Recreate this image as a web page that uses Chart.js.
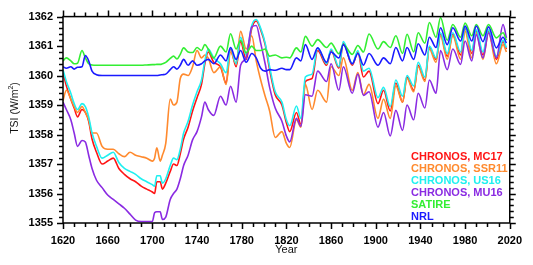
<!DOCTYPE html>
<html>
<head>
<meta charset="utf-8">
<script src="https://cdn.jsdelivr.net/npm/chart.js@4.4.0/dist/chart.umd.min.js"></script>
<style>
  html, body { margin: 0; padding: 0; background: #fff; }
  #wrap { width: 533px; height: 265px; }
</style>
</head>
<body>
<div id="wrap"><canvas id="tsiChart" width="533" height="265"></canvas></div>
<script>
// TSI reconstructions, values (W/m^2)
const years = [
  1620, 1623, 1627, 1630, 1633, 1637, 1640, 1643, 1646,
  1650, 1655, 1660, 1665, 1670, 1675, 1680, 1685, 1690, 1695,
  1700, 1702, 1704, 1707, 1709, 1712, 1716, 1719, 1722, 1725, 1728,
  1732, 1736, 1740, 1744, 1747, 1750, 1755, 1761, 1766,
  1770, 1775, 1779, 1784, 1789, 1793, 1797, 1801, 1805, 1810,
  1816, 1820, 1823, 1829, 1833, 1837, 1843, 1848, 1856,
  1860, 1867, 1871, 1879, 1884, 1889, 1894, 1902,
  1907, 1913, 1918, 1924, 1928, 1934, 1938, 1944, 1948,
  1954, 1958, 1964, 1969, 1976, 1980, 1986, 1990, 1996, 2001, 2008, 2014, 2017
];

const mc17 = [
  1360.1, 1359.65, 1359.2, 1358.9, 1358.6, 1358.85, 1358.75, 1358.45, 1357.85,
  1357.4, 1357.0, 1357.1, 1357.2, 1356.85, 1356.65, 1356.5, 1356.4, 1356.25, 1356.15,
  1356.05, 1356.0, 1356.4, 1356.4, 1356.15, 1356.35, 1356.75, 1357.0, 1356.95, 1357.35, 1357.85,
  1358.25, 1358.8, 1359.25, 1359.7, 1360.4, 1360.8, 1360.45, 1360.3, 1359.75,
  1360.9, 1360.3, 1361.15, 1360.55, 1361.6, 1361.85, 1361.55, 1361.05, 1360.2, 1359.35,
  1359.0, 1358.4, 1358.1, 1358.75, 1358.35, 1359.8, 1359.9, 1360.85, 1360.35,
  1360.85, 1360.25, 1361.1, 1360.35, 1360.8, 1359.95, 1360.15, 1359.05,
  1359.5, 1358.8, 1359.75, 1359.1, 1359.95, 1359.5, 1360.35, 1359.85, 1360.95,
  1360.55, 1361.4, 1360.65, 1361.4, 1360.7, 1361.6, 1360.75, 1361.5, 1360.7, 1361.5, 1360.55, 1361.15, 1360.9
];

const ssr11 = [
  1359.15, 1359.5, 1359.2, 1358.95, 1358.75, 1358.95, 1358.75, 1358.5, 1358.05,
  1358.05, 1357.6, 1357.5, 1357.5, 1357.35, 1357.25, 1357.4, 1357.3, 1357.25, 1357.2,
  1357.1, 1357.2, 1357.55, 1357.1, 1357.3, 1357.7, 1359.2, 1359.0, 1359.1, 1359.9, 1360.05,
  1360.0, 1360.3, 1360.85, 1360.6, 1360.7, 1360.6, 1360.1, 1360.3, 1359.7,
  1360.8, 1360.4, 1361.5, 1360.9, 1361.35, 1360.5, 1359.85, 1359.3, 1358.8, 1357.9,
  1358.1, 1357.7, 1357.56, 1358.5, 1358.25, 1359.7, 1358.85, 1359.5, 1359.1,
  1360.3, 1360.0, 1360.6, 1359.5, 1360.1, 1359.35, 1359.7, 1358.55,
  1359.2, 1358.55, 1359.65, 1359.1, 1359.9, 1359.45, 1360.3, 1359.8, 1360.9,
  1360.45, 1361.35, 1360.55, 1361.35, 1360.55, 1361.5, 1360.6, 1361.45, 1360.55, 1361.45, 1360.4, 1361.05, 1360.8
];

const us16 = [
  1360.2, 1359.8, 1359.4, 1359.05, 1358.85, 1359.05, 1358.95, 1358.6, 1358.05,
  1357.6, 1357.2, 1357.3, 1357.4, 1357.05, 1356.85, 1356.75, 1356.65, 1356.5, 1356.4,
  1356.3, 1356.25, 1356.6, 1356.6, 1356.35, 1356.5, 1356.95, 1357.2, 1357.15, 1357.5, 1358.05,
  1358.45, 1359.0, 1359.45, 1359.85, 1360.5, 1360.9, 1360.6, 1360.4, 1360.1,
  1360.95, 1360.4, 1361.3, 1360.7, 1361.7, 1361.9, 1361.6, 1361.1, 1360.3, 1359.45,
  1359.1, 1358.5, 1358.3, 1358.97, 1358.55, 1359.95, 1360.05, 1360.94, 1360.4,
  1360.9, 1360.3, 1361.15, 1360.4, 1360.85, 1360.15, 1360.25, 1359.25,
  1359.6, 1358.95, 1359.85, 1359.3, 1360.0, 1359.65, 1360.45, 1359.95, 1361.0,
  1360.6, 1361.45, 1360.75, 1361.45, 1360.8, 1361.65, 1360.85, 1361.55, 1360.8, 1361.55, 1360.65, 1361.2, 1360.95
];

const mu16 = [
  1359.1, 1358.85, 1358.5, 1358.05, 1357.6, 1357.8, 1357.75, 1357.3, 1356.85,
  1356.45, 1356.2, 1355.95, 1355.8, 1355.65, 1355.5, 1355.3, 1355.1, 1355.05, 1355.05,
  1355.05, 1355.35, 1355.38, 1355.38, 1355.12, 1355.2, 1355.8, 1356.0, 1356.15, 1356.5, 1356.95,
  1357.3, 1357.82, 1358.1, 1358.6, 1359.1, 1358.85, 1358.65, 1359.3, 1359.0,
  1359.64, 1359.1, 1360.35, 1360.6, 1361.65, 1361.7, 1361.1, 1360.4, 1359.6, 1358.9,
  1358.45, 1357.95, 1357.75, 1358.55, 1358.28, 1359.35, 1359.3, 1360.15, 1359.8,
  1360.4, 1359.5, 1360.3, 1359.4, 1360.05, 1359.33, 1359.45, 1358.25,
  1358.75, 1357.95, 1358.82, 1358.14, 1359.0, 1358.5, 1359.4, 1358.9, 1359.85,
  1359.4, 1360.85, 1360.2, 1360.9, 1360.38, 1361.17, 1360.5, 1361.39, 1360.6, 1361.45, 1360.6, 1361.73, 1361.28
];

const satire = [
  1360.5, 1360.6, 1360.5, 1360.4, 1360.42, 1360.85, 1360.6, 1360.4, 1360.36,
  1360.35, 1360.35, 1360.35, 1360.35, 1360.35, 1360.35, 1360.35, 1360.35, 1360.35, 1360.36,
  1360.37, 1360.37, 1360.38, 1360.38, 1360.4, 1360.45, 1360.58, 1360.66, 1360.56, 1360.72, 1360.94,
  1360.8, 1360.78, 1360.95, 1360.85, 1361.05, 1360.9, 1360.6, 1361.0, 1360.8,
  1361.42, 1360.9, 1361.2, 1360.77, 1361.0, 1360.85, 1360.85, 1360.9, 1360.66, 1360.7,
  1360.6, 1360.62, 1360.6, 1360.94, 1360.8, 1361.33, 1361.0, 1361.22, 1360.95,
  1361.1, 1360.74, 1361.05, 1360.72, 1361.02, 1360.8, 1361.41, 1360.9,
  1361.15, 1360.95, 1361.35, 1360.75, 1361.4, 1360.8, 1361.45, 1361.1, 1361.8,
  1361.3, 1361.97, 1361.2, 1361.73, 1361.3, 1361.78, 1361.35, 1361.73, 1361.35, 1361.73, 1361.28, 1361.45, 1361.2
];

const nrl = [
  1360.3, 1360.25, 1360.3, 1360.22, 1360.28, 1360.3, 1360.68, 1360.5, 1360.15,
  1360.03, 1360.0, 1360.0, 1360.0, 1360.0, 1360.0, 1360.0, 1360.0, 1360.0, 1360.0,
  1360.0, 1360.0, 1360.0, 1360.02, 1360.03, 1360.05, 1360.2, 1360.3, 1360.22, 1360.35, 1360.55,
  1360.35, 1360.5, 1360.35, 1360.4, 1360.5, 1360.55, 1360.4, 1360.7, 1360.5,
  1360.95, 1360.55, 1360.85, 1360.45, 1360.75, 1360.6, 1360.25, 1360.15, 1360.2, 1360.18,
  1360.25, 1360.2, 1360.2, 1360.6, 1360.5, 1361.05, 1360.55, 1360.94, 1360.45,
  1360.8, 1360.6, 1361.05, 1360.4, 1360.75, 1360.35, 1360.75, 1360.35,
  1360.6, 1360.4, 1360.95, 1360.5, 1360.95, 1360.55, 1361.08, 1360.7, 1361.3,
  1360.95, 1361.62, 1361.05, 1361.62, 1361.17, 1361.68, 1361.17, 1361.68, 1361.15, 1361.65, 1360.94, 1361.3, 1361.1
];

const seriesNames = ['CHRONOS, MC17', 'CHRONOS, SSR11', 'CHRONOS, US16', 'CHRONOS, MU16', 'SATIRE', 'NRL'];
const seriesValues = [mc17, ssr11, us16, mu16, satire, nrl];
const seriesColors = ['#ff1414', '#ff8a2e', '#1ff0f0', '#8a2be2', '#33ee33', '#1a1aff'];

const xTickMajor = 40, xTickMinor = 10;
const yTickMajor = 1, yTickMinor = 0.2;

const FONT = 'Arial, "Liberation Sans", sans-serif';

// box, outward ticks on all four sides, y title and the text legend
const framePlugin = {
  id: 'frame',
  afterDraw(chart) {
    const { ctx, chartArea: a, scales: { x, y } } = chart;
    ctx.save();
    ctx.strokeStyle = '#000';
    ctx.lineWidth = 1.5;
    ctx.strokeRect(a.left, a.top, a.right - a.left, a.bottom - a.top);

    ctx.beginPath();
    for (let v = x.min; v <= x.max + 0.01; v += xTickMinor) {
      const px = Math.round(x.getPixelForValue(v)) + 0.5;
      const len = Math.abs((v - x.min) % xTickMajor) < 0.01 ? 6 : 4;
      ctx.moveTo(px, a.bottom); ctx.lineTo(px, a.bottom + len);
      ctx.moveTo(px, a.top); ctx.lineTo(px, a.top - len);
    }
    const nY = Math.round((y.max - y.min) / yTickMinor);
    for (let k = 0; k <= nY; k++) {
      const py = Math.round(y.getPixelForValue(y.min + k * yTickMinor)) + 0.5;
      const len = k % Math.round(yTickMajor / yTickMinor) === 0 ? 6 : 4;
      ctx.moveTo(a.left, py); ctx.lineTo(a.left - len, py);
      ctx.moveTo(a.right, py); ctx.lineTo(a.right + len, py);
    }
    ctx.stroke();

    // y axis title, with a raised 2
    ctx.fillStyle = '#111';
    ctx.textBaseline = 'middle';
    ctx.translate(15, 108);
    ctx.rotate(-Math.PI / 2);
    const main = '10.5px ' + FONT, sup = '7px ' + FONT;
    ctx.font = main;
    const w1 = ctx.measureText('TSI (W/m').width, w3 = ctx.measureText(')').width;
    ctx.font = sup;
    const w2 = ctx.measureText('2').width;
    let tx = -(w1 + w2 + w3) / 2;
    ctx.font = main; ctx.fillText('TSI (W/m', tx, 0); tx += w1;
    ctx.font = sup; ctx.fillText('2', tx, -4); tx += w2;
    ctx.font = main; ctx.fillText(')', tx, 0);
    ctx.setTransform(1, 0, 0, 1, 0, 0);

    // legend: coloured text only
    ctx.font = 'bold 11px ' + FONT;
    ctx.textAlign = 'left';
    ctx.textBaseline = 'middle';
    seriesNames.forEach((name, i) => {
      ctx.fillStyle = seriesColors[i];
      ctx.fillText(name, 411, 157 + i * 12);
    });
    ctx.restore();
  }
};

const ctx = document.getElementById('tsiChart').getContext('2d');
const tsiChart = new Chart(ctx, {
  type: 'line',
  data: {
    datasets: seriesNames.map((name, i) => ({
      label: name,
      data: years.map((yr, j) => ({ x: yr, y: seriesValues[i][j] })),
      borderColor: seriesColors[i],
      borderWidth: 1.6,
      pointRadius: 0,
      fill: false,
      tension: 0.35,
      cubicInterpolationMode: 'monotone',
      order: seriesNames.length - i
    }))
  },
  options: {
    responsive: false,
    animation: false,
    devicePixelRatio: 1,
    layout: { padding: { left: 0, right: 21, top: 16, bottom: 0 } },
    plugins: {
      legend: { display: false },
      tooltip: { enabled: false }
    },
    scales: {
      x: {
        type: 'linear',
        min: 1620, max: 2020,
        grid: { display: false, drawTicks: false },
        border: { display: false },
        ticks: {
          stepSize: xTickMajor,
          padding: 11,
          color: '#000',
          font: { family: FONT, size: 11, weight: 'bold' },
          callback: v => String(v)
        },
        title: {
          display: true,
          text: 'Year',
          color: '#111',
          font: { family: FONT, size: 11 },
          padding: { top: 0, bottom: 8 }
        },
        afterFit: s => { s.height = 42; }
      },
      y: {
        min: 1355, max: 1362,
        grid: { display: false, drawTicks: false },
        border: { display: false },
        ticks: {
          stepSize: yTickMajor,
          padding: 10,
          color: '#000',
          font: { family: FONT, size: 11, weight: 'bold' },
          callback: v => String(v)
        },
        afterFit: s => { s.width = 63; }
      }
    }
  },
  plugins: [framePlugin]
});
</script>
</body>
</html>
